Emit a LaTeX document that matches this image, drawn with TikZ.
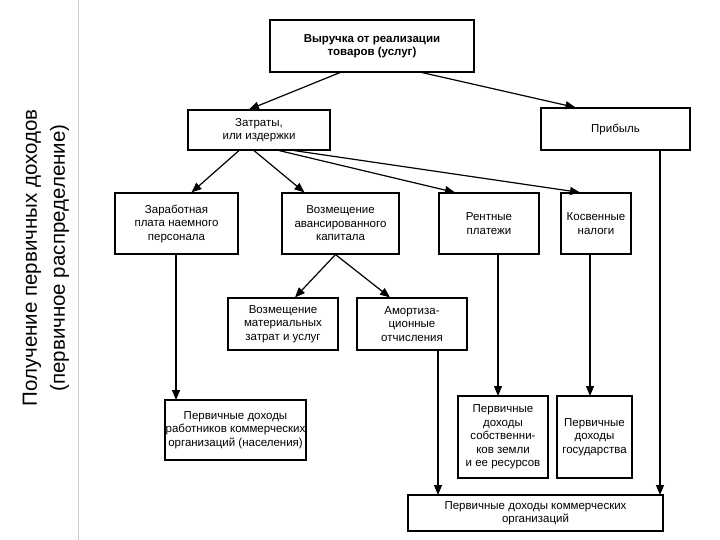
\documentclass[tikz,border=0pt]{standalone}
\usepackage{fontspec}
\setmainfont{Liberation Sans}
\usetikzlibrary{arrows.meta}
\begin{document}
\begin{tikzpicture}[x=1pt,y=-1pt,
  bx/.style={draw,line width=1.1pt,align=center,font=\fontsize{11.5}{13.5}\selectfont,inner sep=0pt},
  ar/.style={line width=1.2pt,-{Triangle[length=10pt,width=8pt]}}]
\useasboundingbox (0,0) rectangle (720,540);
\draw[gray!40,line width=0.8pt] (78,0) -- (78,540);
\node[rotate=90,align=center,font=\fontsize{20.5}{28}\selectfont] (side) at (46,258) {Получение первичных доходов\\(первичное распределение)};
\newcommand{\bxat}[6]{\node[bx,minimum width=#4-#2,minimum height=#5-#3] (#1) at ({(#2+#4)/2},{(#3+#5)/2}) {#6};}
\bxat{top}{270}{20}{474}{72}{\textbf{Выручка от реализации}\\\textbf{товаров (услуг)}}
\bxat{zat}{188}{110}{330}{150}{Затраты,\\или издержки}
\bxat{pr}{541}{108}{690}{150}{Прибыль}
\bxat{zar}{115}{193}{238}{254}{Заработная\\плата наемного\\персонала}
\bxat{vav}{282}{193}{399}{254}{Возмещение\\авансированного\\капитала}
\bxat{rent}{439}{193}{539}{254}{Рентные\\платежи}
\bxat{kos}{561}{193}{631}{254}{Косвенные\\налоги}
\bxat{vmat}{228}{298}{338}{350}{Возмещение\\материальных\\затрат и услуг}
\bxat{am}{357}{298}{467}{350}{Амортиза-\\ционные\\отчисления}
\bxat{prab}{165}{400}{306}{460}{Первичные доходы\\работников коммерческих\\организаций (населения)}
\bxat{sob}{458}{396}{548}{478}{Первичные\\доходы\\собственни-\\ков земли\\и ее ресурсов}
\bxat{gos}{557}{396}{632}{478}{Первичные\\доходы\\государства}
\bxat{kom}{408}{495}{663}{531}{Первичные доходы коммерческих\\организаций}
\draw[ar] ([xshift=-32pt]top.south) -- ([xshift=-10pt]zat.north);
\draw[ar] ([xshift=50pt]top.south) -- ([xshift=-40pt]pr.north);
\draw[ar] ([xshift=-20pt]zat.south) -- ([xshift=15pt]zar.north);
\draw[ar] ([xshift=-5pt]zat.south) -- ([xshift=-36pt]vav.north);
\draw[ar] ([xshift=20pt]zat.south) -- ([xshift=-34pt]rent.north);
\draw[ar] ([xshift=35pt]zat.south) -- ([xshift=-16pt]kos.north);
\draw[ar] ([xshift=-5pt]vav.south) -- ([xshift=12pt]vmat.north);
\draw[ar] ([xshift=-5pt]vav.south) -- ([xshift=-22pt]am.north);
\draw[ar] (zar.south -| 176,0) -- (176,400);
\draw[ar] (am.south -| 438,0) -- (438,495);
\draw[ar] (rent.south -| 498,0) -- (498,396);
\draw[ar] (kos.south -| 590,0) -- (590,396);
\draw[ar] (pr.south -| 660,0) -- (660,495);
\end{tikzpicture}
\end{document}
